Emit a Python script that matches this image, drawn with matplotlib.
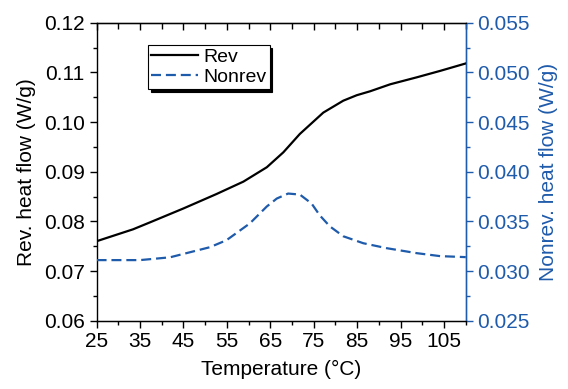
import matplotlib
matplotlib.use('Agg')
from matplotlib import pyplot as plt
from matplotlib.ticker import MultipleLocator, FormatStrFormatter

# temperature (C) and heat flow readings
temp_rev = [25, 33.4, 37.3, 45, 52.6, 58.8, 64.2, 68, 71.8, 77.2, 81.8, 84.9, 88,
            92.6, 98.7, 104.1, 110]
rev_flow = [0.0760, 0.0784, 0.0798, 0.0826, 0.0855, 0.0880, 0.0909, 0.0939, 0.0976,
            0.1019, 0.1043, 0.1054, 0.1062, 0.1076, 0.1090, 0.1103, 0.1118]

temp_nonrev = [25, 35, 41.9, 51.1, 54.9, 60.3, 64.2, 66.5, 69.1, 71.8, 74.5, 76.4, 78.7,
               81.8, 86.4, 91.8, 98.7, 104.1, 110]
nonrev_flow = [0.0311, 0.0311, 0.03138, 0.0324, 0.0331, 0.0348, 0.0365, 0.0373, 0.0378,
               0.0377, 0.0368, 0.0356, 0.0345, 0.0335, 0.0328, 0.0323, 0.0318, 0.0315,
               0.0314]

x_ticks = [25, 35, 45, 55, 65, 75, 85, 95, 105]

BLUE = '#1f5bab'


def main():
    """draw the two heat flow curves"""
    plt.rcParams['font.family'] = ['Liberation Sans', 'DejaVu Sans']
    plt.rcParams['font.size'] = 15

    fig = plt.figure(figsize=(5.68, 3.89), dpi=100)
    ax = fig.add_axes([0.170, 0.1756, 0.650, 0.766])
    ax2 = ax.twinx()

    line1, = ax.plot(temp_rev, rev_flow, color='black', lw=1.6, label='Rev')
    line2, = ax2.plot(temp_nonrev, nonrev_flow, color=BLUE, lw=1.6,
                      dashes=(4.5, 2.2), label='Nonrev')

    ax.set_xlim(25, 110)
    ax.set_ylim(0.06, 0.12)
    ax2.set_ylim(0.025, 0.055)

    ax.set_xticks(x_ticks)
    ax.xaxis.set_minor_locator(MultipleLocator(5))
    ax.yaxis.set_major_locator(MultipleLocator(0.01))
    ax.yaxis.set_minor_locator(MultipleLocator(0.005))
    ax.yaxis.set_major_formatter(FormatStrFormatter('%.2f'))
    ax2.yaxis.set_major_locator(MultipleLocator(0.005))
    ax2.yaxis.set_minor_locator(MultipleLocator(0.0025))
    ax2.yaxis.set_major_formatter(FormatStrFormatter('%.3f'))

    ax.tick_params(which='major', direction='out', length=5, width=1, labelsize=15)
    ax.tick_params(which='minor', direction='out', length=3, width=1)
    ax2.tick_params(which='major', direction='out', length=5, width=1,
                    colors=BLUE, labelsize=15)
    ax2.tick_params(which='minor', direction='out', length=3, width=1, colors=BLUE)

    # top axis ticks point inwards
    top = ax.secondary_xaxis('top')
    top.set_xticks(x_ticks)
    top.xaxis.set_minor_locator(MultipleLocator(5))
    top.tick_params(which='major', direction='in', length=5, width=1, labeltop=False)
    top.tick_params(which='minor', direction='in', length=4, width=1)

    for sp in ax.spines.values():
        sp.set_linewidth(1)
    ax2.spines['right'].set_color(BLUE)
    ax2.spines['left'].set_visible(False)

    ax.set_xlabel('Temperature (\u00b0C)', fontsize=15, labelpad=6)
    ax.set_ylabel('Rev. heat flow (W/g)', fontsize=15, labelpad=6)
    ax2.set_ylabel('Nonrev. heat flow (W/g)', fontsize=15, color=BLUE, labelpad=6)

    leg = ax.legend([line1, line2], ['Rev', 'Nonrev'], loc='upper left',
                    bbox_to_anchor=(0.14, 0.925), frameon=True, fancybox=False,
                    shadow={'color': 'black', 'alpha': 1}, edgecolor='black',
                    framealpha=1, handlelength=2.4, handletextpad=0.3,
                    labelspacing=0.15, borderpad=0.15, borderaxespad=0, fontsize=14)
    leg.get_frame().set_linewidth(0.8)

    plt.savefig('out.png', dpi=100)


if __name__ == '__main__':
    main()
